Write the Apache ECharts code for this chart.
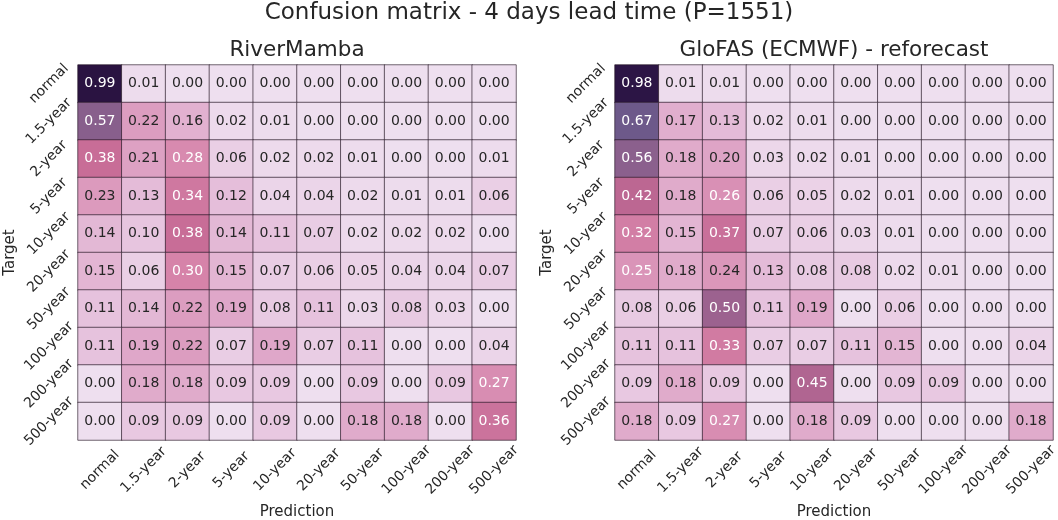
<!DOCTYPE html>
<html><head><meta charset="utf-8">
<script src="https://cdn.jsdelivr.net/npm/echarts@6.0.0/dist/echarts.min.js"></script>
<style>html,body{margin:0;padding:0;background:#fff}#c{width:1058px;height:520px}</style>
</head><body><div id="c"></div>
<script>
const categories = ['normal','1.5-year','2-year','5-year','10-year','20-year','50-year','100-year','200-year','500-year'];
const mainTitle = 'Confusion matrix - 4 days lead time (P=1551)';
const leftTitle = 'RiverMamba';
const rightTitle = 'GloFAS (ECMWF) - reforecast';
const riverMamba = [
  [0.99,0.01,0.00,0.00,0.00,0.00,0.00,0.00,0.00,0.00],
  [0.57,0.22,0.16,0.02,0.01,0.00,0.00,0.00,0.00,0.00],
  [0.38,0.21,0.28,0.06,0.02,0.02,0.01,0.00,0.00,0.01],
  [0.23,0.13,0.34,0.12,0.04,0.04,0.02,0.01,0.01,0.06],
  [0.14,0.10,0.38,0.14,0.11,0.07,0.02,0.02,0.02,0.00],
  [0.15,0.06,0.30,0.15,0.07,0.06,0.05,0.04,0.04,0.07],
  [0.11,0.14,0.22,0.19,0.08,0.11,0.03,0.08,0.03,0.00],
  [0.11,0.19,0.22,0.07,0.19,0.07,0.11,0.00,0.00,0.04],
  [0.00,0.18,0.18,0.09,0.09,0.00,0.09,0.00,0.09,0.27],
  [0.00,0.09,0.09,0.00,0.09,0.00,0.18,0.18,0.00,0.36]
];
const glofas = [
  [0.98,0.01,0.01,0.00,0.00,0.00,0.00,0.00,0.00,0.00],
  [0.67,0.17,0.13,0.02,0.01,0.00,0.00,0.00,0.00,0.00],
  [0.56,0.18,0.20,0.03,0.02,0.01,0.00,0.00,0.00,0.00],
  [0.42,0.18,0.26,0.06,0.05,0.02,0.01,0.00,0.00,0.00],
  [0.32,0.15,0.37,0.07,0.06,0.03,0.01,0.00,0.00,0.00],
  [0.25,0.18,0.24,0.13,0.08,0.08,0.02,0.01,0.00,0.00],
  [0.08,0.06,0.50,0.11,0.19,0.00,0.06,0.00,0.00,0.00],
  [0.11,0.11,0.33,0.07,0.07,0.11,0.15,0.00,0.00,0.04],
  [0.09,0.18,0.09,0.00,0.45,0.00,0.09,0.09,0.00,0.00],
  [0.18,0.09,0.27,0.00,0.18,0.09,0.00,0.00,0.00,0.18]
];
const cmap = ['#eedfef','#e7c5df','#dea4c6','#d683a9','#c46893','#9c628f','#7f5e8b','#655789','#4d4279','#3b2a5f','#28103e'];

function toCells(m){
  const out=[];
  m.forEach((row,i)=>row.forEach((v,j)=>out.push([j,i,v])));
  return out;
}
const font = 'DejaVu Sans';
function xAxisFor(gi){
  return {type:'category',gridIndex:gi,data:categories,position:'bottom',
    axisLine:{show:false},axisTick:{show:false},splitLine:{show:false},
    axisLabel:{interval:0,rotate:45,align:'center',verticalAlign:'middle',margin:30,fontSize:14,color:'#262626',fontFamily:font,hideOverlap:false},
    name:'Prediction',nameLocation:'middle',nameGap:63,nameTextStyle:{fontSize:15,color:'#262626',fontFamily:font}};
}
function yAxisFor(gi){
  return {type:'category',gridIndex:gi,data:categories,inverse:true,
    axisLine:{show:false},axisTick:{show:false},splitLine:{show:false},
    axisLabel:{interval:0,rotate:45,align:'center',verticalAlign:'middle',margin:29,fontSize:14,color:'#262626',fontFamily:font,hideOverlap:false},
    name:'Target',nameLocation:'middle',nameGap:60,nameTextStyle:{fontSize:15,color:'#262626',fontFamily:font}};
}
function seriesFor(m,gi){
  return {type:'heatmap',xAxisIndex:gi,yAxisIndex:gi,data:toCells(m),
    itemStyle:{borderColor:'rgba(35,20,35,0.8)',borderWidth:0.8},
    emphasis:{disabled:true},
    label:{show:true,formatter:p=>{const v=p.value[2];return (v>=0.245?'{w|':'{d|')+v.toFixed(2)+'}';},
      rich:{w:{color:'#ffffff',fontSize:14,fontFamily:font},d:{color:'#262626',fontSize:14,fontFamily:font}}}};
}
const chart = echarts.init(document.getElementById('c'),null,{renderer:'canvas'});
chart.setOption({
  animation:false,
  backgroundColor:'#fff',
  title:[
    {text:mainTitle,left:'center',top:2,padding:0,textStyle:{fontSize:23,fontWeight:'normal',color:'#262626',fontFamily:font}},
    {text:leftTitle,left:297,textAlign:'center',top:39,padding:0,textStyle:{fontSize:21.5,fontWeight:'normal',color:'#262626',fontFamily:font}},
    {text:rightTitle,left:834,textAlign:'center',top:39,padding:0,textStyle:{fontSize:21.5,fontWeight:'normal',color:'#262626',fontFamily:font}}
  ],
  grid:[
    {left:78,top:65,width:438,height:375,containLabel:false,outerBoundsMode:'none'},
    {left:615,top:65,width:438,height:375,containLabel:false,outerBoundsMode:'none'}
  ],
  xAxis:[xAxisFor(0),xAxisFor(1)],
  yAxis:[yAxisFor(0),yAxisFor(1)],
  visualMap:[
    {show:false,type:'continuous',min:0,max:1,dimension:2,seriesIndex:0,inRange:{color:cmap}},
    {show:false,type:'continuous',min:0,max:1,dimension:2,seriesIndex:1,inRange:{color:cmap}}
  ],
  series:[seriesFor(riverMamba,0),seriesFor(glofas,1)]
});
</script>
</body></html>
